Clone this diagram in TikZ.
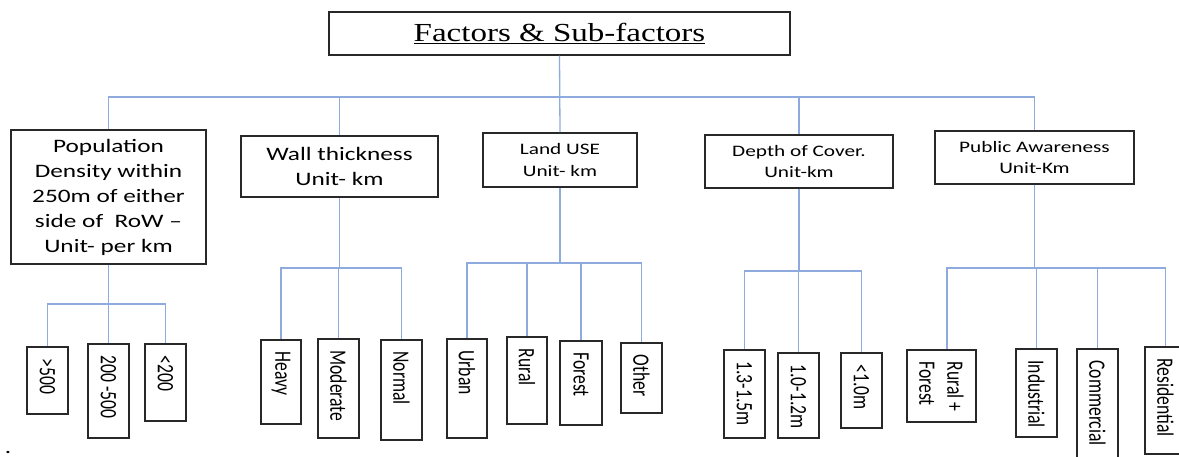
\documentclass[tikz,border=0pt]{standalone}
\usepackage{fontspec}
\newfontfamily\calw[FakeStretch=1.33]{Carlito}
\newfontfamily\calr[FakeStretch=0.75]{Carlito}
\newfontfamily\timesw[FakeStretch=1.27]{Liberation Serif}
\definecolor{linec}{RGB}{143,170,220}
\definecolor{boxc}{RGB}{40,40,40}
\tikzset{
  box/.style={draw=boxc, line width=1.5pt, inner sep=0pt, fill=white, align=center},
  conn/.style={draw=linec, line width=1.3pt},
  bigf/.style={font=\calw\fontsize{19}{25}\selectfont},
  midf/.style={font=\calw\fontsize{16}{21.5}\selectfont},
  rlab/.style={rotate=-90, anchor=west, inner sep=0pt, align=left, font=\calr\fontsize{23.5}{28}\selectfont},
}
\newcommand{\subbox}[6]{%
  \node[box, minimum width=#4pt, minimum height=#5pt] (#1) at (#2,#3) {};
  \node[rlab] (#1T) at ([yshift=-12pt]#1.north) {#6};
}
\begin{document}
\begin{tikzpicture}[x=1pt,y=-1pt]
\useasboundingbox (0,0) rectangle (1179,457);
\clip (0,0) rectangle (1179,457);
\fill[white] (0,0) rectangle (1179,457);

% top
\node[box, minimum width=461pt, minimum height=43pt, font=\timesw\fontsize{26}{30}\selectfont] (top) at (559.5,33.5) {\underline{Factors \& Sub-factors}};

% level 2
\node[box, bigf, minimum width=195pt, minimum height=134pt] (pop) at (108.5,197) {Population\\Density within\\250m of either\\side of~ RoW –\\Unit- per km};
\node[box, bigf, minimum width=197pt, minimum height=61pt] (wall) at (339.5,166.5) {Wall thickness\\Unit- km};
\node[box, midf, minimum width=154pt, minimum height=54pt] (land) at (560,160) {Land USE\\Unit- km};
\node[box, midf, minimum width=188pt, minimum height=53pt] (depth) at (799,161.5) {Depth of Cover.\\Unit-km};
\node[box, midf, minimum width=199pt, minimum height=53pt] (pub) at (1034.5,157.5) {Public Awareness\\Unit-Km};

% level 3
\subbox{g500}{47.5}{380.5}{41}{67}{>500}
\subbox{gmid}{108.5}{391}{41}{94}{200 -500}
\subbox{l200}{165.5}{382.5}{41}{77}{<200}
\subbox{heavy}{281}{382}{40}{84}{Heavy}
\subbox{moderate}{338.5}{388.5}{41}{99}{Moderate}
\subbox{normal}{401.5}{390}{41}{100}{Normal}
\subbox{urban}{467}{388.5}{40}{99}{Urban}
\subbox{rural}{527}{380.5}{40}{87}{Rural}
\subbox{forest}{581}{383}{42}{84}{Forest}
\subbox{other}{641.5}{378}{41}{70}{Other}
\subbox{da}{744.5}{394}{41}{88}{1.3-1.5m}
\subbox{db}{798.5}{395.5}{41}{85}{1.0-1.2m}
\subbox{dc}{861.5}{390.5}{41}{75}{<1.0m}
\subbox{rf}{941.5}{386}{69}{72}{Rural +\\Forest}
\subbox{ind}{1036.5}{393}{41}{88}{Industrial}
\subbox{com}{1097.5}{409.5}{41}{121}{Commercial}
\subbox{res}{1165.5}{400.5}{41}{107}{Residential}

\node[inner sep=0pt, anchor=base, font=\calw\fontsize{19}{19}\selectfont] (dot) at (8,453) {.};

% main bus
\coordinate (mb) at (560,97);
\draw[conn] (top.south) -- (land.north);
\draw[conn] (pop.north) |- (mb) -| (pub.north);
\draw[conn] (wall.north) -- (wall.north |- mb);
\draw[conn] (depth.north) -- (depth.north |- mb);

% population
\coordinate (pb) at (108.5,304);
\draw[conn] (pop.south) -- (gmid.north);
\draw[conn] (g500.north) |- (pb) -| (l200.north);

% wall
\coordinate (wb) at (339.5,268);
\draw[conn] (wall.south) -- (wb);
\draw[conn] (heavy.north) |- (wb) -| (normal.north);
\draw[conn] (moderate.north) -- (moderate.north |- wb);

% land
\coordinate (lb) at (560,263);
\draw[conn] (land.south) -- (lb);
\draw[conn] (urban.north) |- (lb) -| (other.north);
\draw[conn] (rural.north) -- (rural.north |- lb);
\draw[conn] (forest.north) -- (forest.north |- lb);

% depth
\coordinate (dbus) at (799,271);
\draw[conn] (depth.south) -- (dbus);
\draw[conn] (da.north) |- (dbus) -| (dc.north);
\draw[conn] (db.north) -- (db.north |- dbus);

% public
\coordinate (pbus) at (1034.5,268);
\draw[conn] (pub.south) -- (pbus);
\draw[conn] ([xshift=5.5pt]rf.north) |- (pbus) -| (res.north);
\draw[conn] (ind.north) -- (ind.north |- pbus);
\draw[conn] (com.north) -- (com.north |- pbus);
\end{tikzpicture}
\end{document}
